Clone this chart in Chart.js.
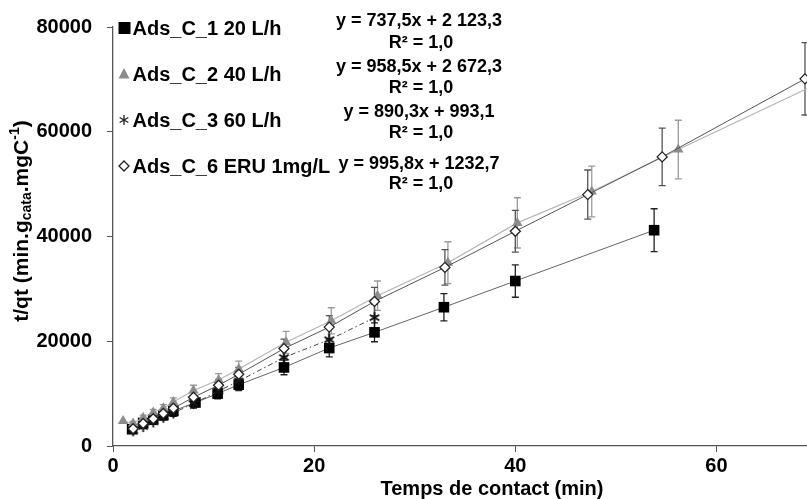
<!DOCTYPE html>
<html><head><meta charset="utf-8">
<script src="https://cdn.jsdelivr.net/npm/chart.js@4.4.1/dist/chart.umd.min.js"></script>
<style>html,body{margin:0;padding:0;background:#fff;}canvas{display:block;}</style>
</head><body>
<canvas id="c" width="807" height="499"></canvas>
<script>
// ---- data ----
const xTicks = [0, 20, 40, 60];
const yTicks = [0, 20000, 40000, 60000, 80000];
const seriesNames = ["Ads_C_1 20 L/h", "Ads_C_2 40 L/h", "Ads_C_3 60 L/h", "Ads_C_6 ERU 1mg/L"];
const eqLines = ["y = 737,5x + 2 123,3", "y = 958,5x + 2 672,3", "y = 890,3x + 993,1", "y = 995,8x + 1232,7"];
const r2Lines = ["R² = 1,0", "R² = 1,0", "R² = 1,0", "R² = 1,0"];

const c1X   = [1.9, 3, 4, 5, 6, 8.2, 10.4, 12.5, 17, 21.5, 26, 32.9, 40, 53.8];
const c1Y   = [3200, 4400, 5100, 5900, 6700, 8300, 10000, 11700, 15000, 18700, 21700, 26500, 31500, 41200];
const c1Err = [300, 400, 500, 550, 600, 800, 1000, 1100, 1400, 1700, 1800, 2600, 3100, 4100];

const c2X   = [1, 2, 3, 4, 5, 6, 8, 10.5, 12.5, 17.2, 21.7, 26.3, 33.3, 40.2, 47.6, 56.2, 70.5];
const c2Y   = [4750, 4300, 5400, 6400, 7200, 8400, 10600, 12600, 14700, 19800, 23900, 28700, 35000, 42600, 48600, 56600, 69600];
const c2Err = [0, 400, 500, 600, 700, 800, 1000, 1200, 1500, 2100, 2500, 2800, 4000, 4800, 4850, 5600, 7000];

const c3X   = [2, 3, 4, 5, 6, 8, 10.5, 12.5, 17, 21.5, 26];
const c3Y   = [2900, 3700, 4600, 5500, 6300, 8100, 10500, 12400, 16900, 20300, 24500];
const c3Err = [300, 400, 450, 550, 650, 850, 1100, 1300, 1800, 2200, 2600];

const c6X   = [2, 3, 4, 5, 6, 8, 10.5, 12.5, 17, 21.5, 26, 33, 40, 47.2, 54.6, 68.8];
const c6Y   = [3300, 4300, 5200, 6200, 7200, 9300, 11600, 13700, 18600, 22700, 27600, 34100, 41000, 48000, 55200, 70100];
const c6Err = [300, 400, 500, 600, 700, 900, 1100, 1300, 1800, 2200, 2700, 3400, 4000, 4700, 5500, 6900];

// ---- helpers ----
const FONT = '"Liberation Sans", Arial, sans-serif';
function pts(xs, ys, es) { return xs.map((x, i) => ({x: x, y: ys[i], e: es[i]})); }

function makeStar(size, color, lw) {
  const cv = document.createElement('canvas');
  cv.width = size; cv.height = size;
  const g = cv.getContext('2d');
  g.strokeStyle = color; g.lineWidth = lw;
  const m = size / 2, r = size / 2 - 1;
  g.beginPath();
  g.moveTo(m, m - r); g.lineTo(m, m + r);
  g.moveTo(m - r * 0.87, m - r * 0.5); g.lineTo(m + r * 0.87, m + r * 0.5);
  g.moveTo(m - r * 0.87, m + r * 0.5); g.lineTo(m + r * 0.87, m - r * 0.5);
  g.stroke();
  return cv;
}
const starImg = makeStar(13, '#111', 1.8);
const starLegend = makeStar(12, '#222', 1.3);

const errColors = ['#222', '#9a9a9a', '#111', '#555'];

const errorBars = {
  id: 'errorBars',
  beforeDatasetsDraw(chart) {
    const ctx = chart.ctx, xs = chart.scales.x, ys = chart.scales.y, a = chart.chartArea;
    ctx.save();
    ctx.beginPath(); ctx.rect(a.left, a.top - 20, a.right - a.left, a.bottom - a.top + 20); ctx.clip();
    chart.data.datasets.forEach((ds, di) => {
      ctx.strokeStyle = errColors[di]; ctx.lineWidth = 1.3;
      ds.data.forEach(p => {
        if (!p.e) return;
        const px = xs.getPixelForValue(p.x);
        const y1 = ys.getPixelForValue(p.y - p.e), y2 = ys.getPixelForValue(p.y + p.e);
        ctx.beginPath();
        ctx.moveTo(px, y1); ctx.lineTo(px, y2);
        ctx.moveTo(px - 3.5, y1); ctx.lineTo(px + 3.5, y1);
        ctx.moveTo(px - 3.5, y2); ctx.lineTo(px + 3.5, y2);
        ctx.stroke();
      });
    });
    ctx.restore();
  }
};

const annotations = {
  id: 'annotations',
  afterDraw(chart) {
    const ctx = chart.ctx;
    ctx.save();
    // legend
    const rows = [28, 74, 120, 166];
    ctx.fillStyle = '#000';
    ctx.font = 'bold 20px ' + FONT;
    ctx.textBaseline = 'middle'; ctx.textAlign = 'left';
    seriesNames.forEach((n, i) => ctx.fillText(n, 132.5, rows[i] + 1));
    // markers
    ctx.fillStyle = '#000'; ctx.fillRect(118.5, rows[0] - 6, 12, 12);
    ctx.fillStyle = '#8c8c8c';
    ctx.beginPath(); ctx.moveTo(124, rows[1] - 6); ctx.lineTo(129.5, rows[1] + 4.5); ctx.lineTo(118.5, rows[1] + 4.5); ctx.closePath(); ctx.fill();
    ctx.drawImage(starLegend, 118, rows[2] - 6);
    ctx.fillStyle = '#fff'; ctx.strokeStyle = '#222'; ctx.lineWidth = 1.3;
    ctx.beginPath(); ctx.moveTo(124, rows[3] - 5); ctx.lineTo(129, rows[3]); ctx.lineTo(124, rows[3] + 5); ctx.lineTo(119, rows[3]); ctx.closePath(); ctx.fill(); ctx.stroke();
    // equations
    ctx.fillStyle = '#000';
    ctx.font = 'bold 18px ' + FONT;
    ctx.textAlign = 'center';
    const eqY = [21, 67, 112, 164], r2Y = [43, 88, 133, 184];
    eqLines.forEach((t, i) => ctx.fillText(t, 419, eqY[i]));
    r2Lines.forEach((t, i) => ctx.fillText(t, 421, r2Y[i]));
    // x title
    ctx.font = 'bold 20px ' + FONT;
    ctx.fillText('Temps de contact (min)', 492, 489);
    // y title with sub/superscripts
    const parts = [
      {t: 't/qt (min.g', s: 21, dy: 0},
      {t: 'cata', s: 14, dy: 5},
      {t: '.mgC', s: 21, dy: 0},
      {t: '-1', s: 14, dy: -7},
      {t: ')', s: 21, dy: 0}
    ];
    let total = 0;
    parts.forEach(p => { ctx.font = 'bold ' + p.s + 'px ' + FONT; p.w = ctx.measureText(p.t).width; total += p.w; });
    ctx.translate(22, 221); ctx.rotate(-Math.PI / 2);
    ctx.textAlign = 'left';
    let x = -total / 2;
    parts.forEach(p => { ctx.font = 'bold ' + p.s + 'px ' + FONT; ctx.fillText(p.t, x, p.dy); x += p.w; });
    ctx.restore();
  }
};

const axisColor = '#555';
new Chart(document.getElementById('c'), {
  type: 'line',
  data: {
    datasets: [
      {label: seriesNames[0], data: pts(c1X, c1Y, c1Err), order: 4,
       borderColor: '#666', borderWidth: 1, backgroundColor: '#000',
       pointStyle: 'rect', pointRadius: 7.5, pointBorderColor: '#000', pointBackgroundColor: '#000', pointBorderWidth: 0},
      {label: seriesNames[1], data: pts(c2X, c2Y, c2Err), order: 3,
       borderColor: '#b5b5b5', borderWidth: 1.2,
       pointStyle: 'triangle', pointRadius: 6, pointBorderColor: '#8c8c8c', pointBackgroundColor: '#8c8c8c', pointBorderWidth: 0},
      {label: seriesNames[2], data: pts(c3X, c3Y, c3Err), order: 2,
       borderColor: '#444', borderWidth: 1, borderDash: [5, 3, 1.5, 3],
       pointStyle: starImg, pointRadius: 6},
      {label: seriesNames[3], data: pts(c6X, c6Y, c6Err), order: 1,
       borderColor: '#555', borderWidth: 1,
       pointStyle: 'rectRot', pointRadius: 5, pointBorderColor: '#222', pointBackgroundColor: '#fff', pointBorderWidth: 1.3}
    ]
  },
  options: {
    responsive: false, animation: false, devicePixelRatio: 1,
    parsing: {xAxisKey: 'x', yAxisKey: 'y'},
    layout: {autoPadding: false, padding: {top: 25, left: 0, right: 0, bottom: 0}},
    plugins: {legend: {display: false}, tooltip: {enabled: false}},
    scales: {
      x: {
        type: 'linear', min: 0, max: 69,
        afterBuildTicks: s => { s.ticks = xTicks.map(v => ({value: v})); },
        afterFit: s => { s.height = 53; },
        grid: {drawOnChartArea: false, tickLength: 6, color: axisColor, tickColor: axisColor},
        border: {display: true, color: axisColor, width: 1.3},
        ticks: {color: '#000', font: {family: FONT, size: 20, weight: 'bold'}, padding: 2, maxRotation: 0,
                callback: v => String(v)}
      },
      y: {
        type: 'linear', min: 0, max: 80000,
        afterBuildTicks: s => { s.ticks = yTicks.map(v => ({value: v})); },
        afterFit: s => { s.width = 113; },
        grid: {drawOnChartArea: false, tickLength: 6, color: axisColor, tickColor: axisColor},
        border: {display: true, color: axisColor, width: 1.3},
        ticks: {color: '#000', font: {family: FONT, size: 20, weight: 'bold'}, padding: 15,
                callback: v => String(v)}
      }
    }
  },
  plugins: [errorBars, annotations]
});
</script>
</body></html>
